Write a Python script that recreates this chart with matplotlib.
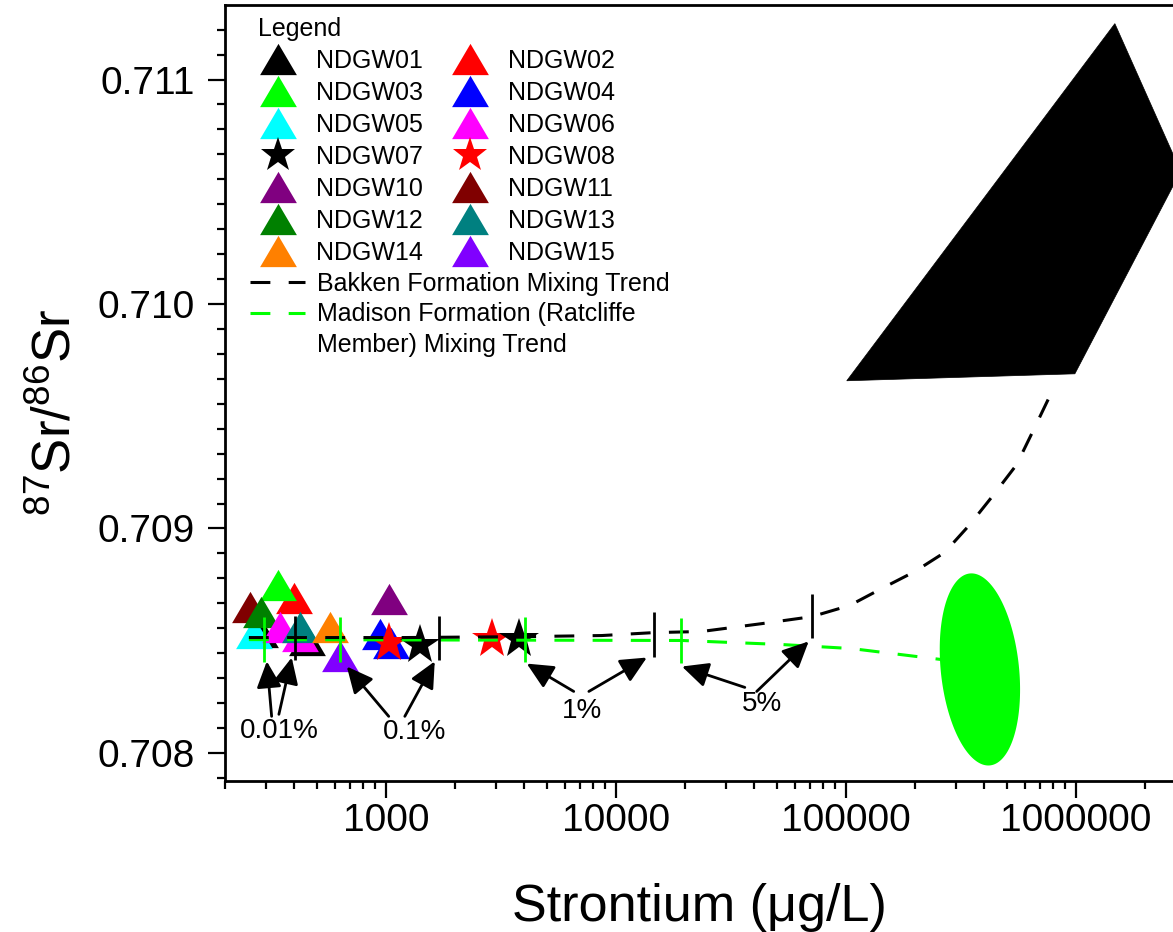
import matplotlib
matplotlib.use("Agg")
import matplotlib.pyplot as plt
import numpy as np
from matplotlib.lines import Line2D
from matplotlib.patches import Polygon
from matplotlib.ticker import FixedLocator, FuncFormatter, LogLocator, NullFormatter

plt.rcParams["font.family"] = ["Liberation Sans", "DejaVu Sans"]
plt.rcParams["mathtext.default"] = "regular"

# groundwater samples (legend order)
sample_names = ["NDGW01", "NDGW02", "NDGW03", "NDGW04", "NDGW05", "NDGW06", "NDGW07",
                "NDGW08", "NDGW10", "NDGW11", "NDGW12", "NDGW13", "NDGW14", "NDGW15"]
sample_colors = ["#000000", "#FF0000", "#00FF00", "#0000FF", "#00FFFF", "#FF00FF", "#000000",
                 "#FF0000", "#800080", "#800000", "#008000", "#008080", "#FF8000", "#8000FF"]
sample_kinds = ["tri", "tri", "tri", "tri", "tri", "tri", "star",
                "star", "tri", "tri", "tri", "tri", "tri", "tri"]
sample_sr = {
    "NDGW01": [283, 454], "NDGW02": [398], "NDGW03": [339], "NDGW04": [942, 1051],
    "NDGW05": [267], "NDGW06": [346, 422], "NDGW07": [1406, 3785], "NDGW08": [1030, 2891],
    "NDGW10": [1030], "NDGW11": [257], "NDGW12": [286], "NDGW13": [422], "NDGW14": [571],
    "NDGW15": [631],
}
sample_ratio = {
    "NDGW01": [0.708541, 0.708501], "NDGW02": [0.708692], "NDGW03": [0.708746],
    "NDGW04": [0.708528, 0.708492], "NDGW05": [0.708533], "NDGW06": [0.708559, 0.708519],
    "NDGW07": [0.708483, 0.708506], "NDGW08": [0.708492, 0.708506], "NDGW10": [0.708688],
    "NDGW11": [0.708652], "NDGW12": [0.708630], "NDGW13": [0.708563], "NDGW14": [0.708563],
    "NDGW15": [0.708434],
}
draw_order = ["NDGW01", "NDGW11", "NDGW05", "NDGW02", "NDGW03", "NDGW12", "NDGW06", "NDGW13",
              "NDGW14", "NDGW15", "NDGW04", "NDGW10", "NDGW08", "NDGW07"]

# mixing trends
bakken_sr = [254, 1174, 3900, 8690, 14600, 23600, 43100, 71100, 104000, 143000, 199500,
             269000, 346000, 440000, 553000, 656000, 787000]
bakken_ratio = [0.708514, 0.708514, 0.708518, 0.708523, 0.708536, 0.708541, 0.708576, 0.708607,
                0.708657, 0.708732, 0.708808, 0.708893, 0.709017, 0.709151, 0.709284, 0.709440,
                0.709609]
madison_sr = [254, 19400, 52700, 106000, 261000]
madison_ratio = [0.708505, 0.708501, 0.708483, 0.708465, 0.708416]

bakken_tick_sr = [402, 1700, 14600, 71100]
bakken_tick_ratio = [0.708512, 0.708512, 0.708528, 0.708610]
madison_tick_sr = [295, 631, 4020, 19200]
madison_tick_ratio = [0.708506, 0.708506, 0.708506, 0.708499]

# end members
bakken_poly_sr = [1.479e6, 2.86e6, 9.91e5, 1.01e5]
bakken_poly_ratio = [0.711249, 0.710591, 0.709689, 0.709658]
madison_center = (383000, 0.708372)
madison_semi_minor = 0.17     # decades
madison_semi_major = 0.42     # decade-equivalent units
madison_tilt_deg = 6          # counter-clockwise: top leans left

# percent annotations
pct_labels = ["0.01%", "0.1%", "1%", "5%"]
pct_text_sr = [346, 1337, 7112, 43150]
pct_text_ratio = [0.708096, 0.708092, 0.708185, 0.708216]
arrow_tail_sr = [[319, 343], [1030, 1210], [6565, 7639], [36400, 41000]]
arrow_tail_ratio = [[0.708163, 0.708172], [0.708163, 0.708163], [0.708274, 0.708274],
                    [0.708292, 0.708274]]
arrow_head_sr = [[304, 390], [677, 1633], [4102, 13650], [19400, 69000]]
arrow_head_ratio = [[0.708408, 0.708425], [0.708385, 0.708408], [0.708398, 0.708425],
                    [0.708385, 0.708497]]

TRI = [(-1, -0.85), (1, -0.85), (0, 0.85)]
TRI_MS = 26.5
STAR_MS = 30
DASH = (0, (6.5, 6.0))
Y_UNIT = 0.001 * 230 / 224.7

fig = plt.figure(figsize=(11.73, 9.32), dpi=100)
ax = fig.add_axes([225 / 1173, 1 - 781 / 932, 948 / 1173, 776 / 932])
ax.set_xscale("log")
ax.set_xlim(200, 2.647e6)
ax.set_ylim(0.707875, 0.711332)


def marker_style(name):
    i = sample_names.index(name)
    if sample_kinds[i] == "tri":
        return dict(marker=TRI, markersize=TRI_MS, color=sample_colors[i])
    return dict(marker="*", markersize=STAR_MS, color=sample_colors[i])


for name in draw_order:
    ax.plot(sample_sr[name], sample_ratio[name], linestyle="none", markeredgewidth=0,
            zorder=3, **marker_style(name))

# end members
ax.add_patch(Polygon(list(zip(bakken_poly_sr, bakken_poly_ratio)), closed=True,
                     facecolor="black", edgecolor="black", linewidth=0.5, zorder=2))
t = np.linspace(0, 2 * np.pi, 200)
phi = np.radians(madison_tilt_deg)
du = madison_semi_minor * np.cos(t) * np.cos(phi) - madison_semi_major * np.sin(t) * np.sin(phi)
dv = madison_semi_minor * np.cos(t) * np.sin(phi) + madison_semi_major * np.sin(t) * np.cos(phi)
ax.fill(madison_center[0] * 10 ** du, madison_center[1] + dv * Y_UNIT,
        color="#00FF00", linewidth=0, zorder=2)

ax.plot(madison_sr, madison_ratio, color="#00FF00", linewidth=2.2, linestyle=DASH, zorder=4)
ax.plot(bakken_sr, bakken_ratio, color="black", linewidth=2.2, linestyle=DASH, zorder=5)

ax.vlines(madison_tick_sr, np.array(madison_tick_ratio) - 0.0001,
          np.array(madison_tick_ratio) + 0.0001, color="#00FF00", linewidth=2.0, zorder=6)
ax.vlines(bakken_tick_sr, np.array(bakken_tick_ratio) - 0.0001,
          np.array(bakken_tick_ratio) + 0.0001, color="black", linewidth=2.0, zorder=6)

for i, lab in enumerate(pct_labels):
    ax.text(pct_text_sr[i], pct_text_ratio[i], lab, fontsize=20, ha="center", va="center")
    for j in range(2):
        ax.annotate("", xy=(arrow_head_sr[i][j], arrow_head_ratio[i][j]),
                    xytext=(arrow_tail_sr[i][j], arrow_tail_ratio[i][j]),
                    arrowprops=dict(arrowstyle="-|>,head_length=0.8,head_width=0.38",
                                    color="black", lw=2.0, shrinkA=0, shrinkB=0,
                                    mutation_scale=20),
                    zorder=7)

# axes styling
for side in ["left", "bottom", "top"]:
    ax.spines[side].set_linewidth(2.0)
ax.spines["right"].set_visible(False)
ax.xaxis.set_major_locator(FixedLocator([1e3, 1e4, 1e5, 1e6]))
ax.xaxis.set_major_formatter(FuncFormatter(lambda v, p: f"{int(round(v))}"))
ax.xaxis.set_minor_locator(LogLocator(base=10, subs=np.arange(2, 10)))
ax.xaxis.set_minor_formatter(NullFormatter())
ax.yaxis.set_major_locator(FixedLocator([0.708, 0.709, 0.710, 0.711]))
ax.yaxis.set_major_formatter(FuncFormatter(lambda v, p: f"{v:.3f}"))
ax.yaxis.set_minor_locator(FixedLocator(np.arange(0.707, 0.7115, 0.001 / 9)))
ax.tick_params(which="major", direction="out", length=12, width=1.6, labelsize=28)
ax.tick_params(which="minor", direction="out", length=6, width=1.6)
ax.tick_params(axis="x", which="major", pad=4)
ax.tick_params(axis="y", which="major", pad=10)
ax.tick_params(top=False, right=False, which="both")

ax.set_xlabel("Strontium (\u03bcg/L)", fontsize=37.5)
ax.xaxis.set_label_coords(0.5, -0.132)
ax.set_ylabel("$^{87}$Sr/$^{86}$Sr", fontsize=38)
ax.yaxis.set_label_coords(-0.151, 0.475)

# legends
order_cols = ["NDGW01", "NDGW03", "NDGW05", "NDGW07", "NDGW10", "NDGW12", "NDGW14",
              "NDGW02", "NDGW04", "NDGW06", "NDGW08", "NDGW11", "NDGW13", "NDGW15"]
handles = []
for n in order_cols:
    st = marker_style(n)
    if st["marker"] == "*":
        st["markersize"] = 26
    handles.append(Line2D([], [], linestyle="none", markeredgewidth=0, **st))
leg1 = ax.legend(handles, order_cols, ncol=2, title="Legend", alignment="left",
                 fontsize=18, title_fontsize=18, frameon=False, handlelength=1.6,
                 handletextpad=0.72, columnspacing=1.05, labelspacing=0.32, borderpad=0,
                 borderaxespad=0, loc="upper left", bbox_to_anchor=(0.0353, 0.985))
ax.add_artist(leg1)

line_handles = [Line2D([], [], color="black", linewidth=2.2, linestyle=DASH),
                Line2D([], [], color="#00FF00", linewidth=2.2, linestyle=DASH),
                Line2D([], [], color="none")]
line_labels = ["Bakken Formation Mixing Trend", "Madison Formation (Ratcliffe",
               "Member) Mixing Trend"]
ax.legend(line_handles, line_labels, fontsize=18, frameon=False, handlelength=2.2,
          handletextpad=0.48, labelspacing=0.26, borderpad=0, borderaxespad=0,
          loc="upper left", bbox_to_anchor=(0.026, 0.656))

fig.savefig("out.png", dpi=100)
